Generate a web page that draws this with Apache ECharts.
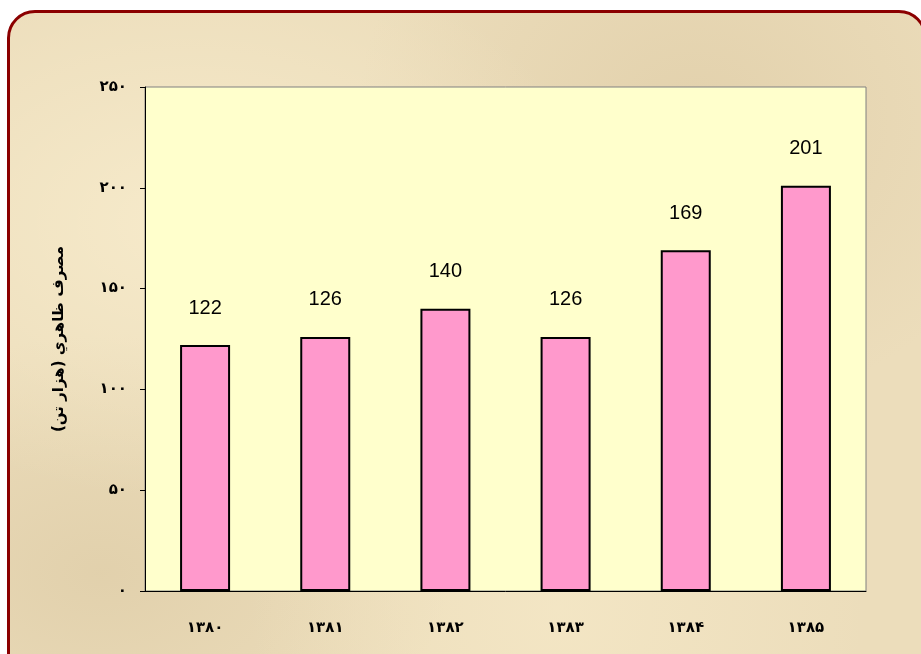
<!DOCTYPE html>
<html>
<head>
<meta charset="utf-8">
<script src="https://cdn.jsdelivr.net/npm/echarts@6/dist/echarts.min.js"></script>
<style>
html, body { margin: 0; padding: 0; background: #fff; overflow: hidden; }
#frame {
	position: absolute; left: 7px; top: 10px; width: 914px; height: 700px;
	border: 3px solid #8B0000; border-radius: 28px;
	background-color: #ECDDBB;
	background-image:
		radial-gradient(ellipse at 20% 30%, rgba(255,245,215,0.55), rgba(255,245,215,0) 40%),
		radial-gradient(ellipse at 75% 15%, rgba(215,195,155,0.45), rgba(215,195,155,0) 35%),
		radial-gradient(ellipse at 60% 85%, rgba(250,238,205,0.5), rgba(250,238,205,0) 40%),
		radial-gradient(ellipse at 10% 80%, rgba(210,190,150,0.4), rgba(210,190,150,0) 30%);
}
#chartsId { position: absolute; left: 0; top: 0; width: 921px; height: 654px; }
</style>
</head>
<body>
<div id="frame"></div>
<div id="chartsId"></div>
<script>
// سال ها و مصرف ظاهري (هزار تن)
var years = ['1380', '1381', '1382', '1383', '1384', '1385'];
var consumption = [122, 126, 140, 126, 169, 201];
var yTicks = [0, 50, 100, 150, 200, 250];

var faDigits = ['۰', '۱', '۲', '۳', '۴', '۵', '۶', '۷', '۸', '۹'];
function toFa(s) {
	return String(s).replace(/[0-9]/g, function (d) { return faDigits[+d]; });
}

var myChart = echarts.init(document.getElementById('chartsId'));
var option = {
	backgroundColor: 'transparent',
	animation: false,
	grid: {
		left: 145, right: 55, top: 87, bottom: 63,
		show: true,
		backgroundColor: '#FFFFCC',
		borderColor: '#808080',
		borderWidth: 1
	},
	xAxis: {
		type: 'category',
		data: years,
		axisLine: { lineStyle: { color: '#000', width: 1 } },
		axisTick: { length: 7, lineStyle: { color: '#000' } },
		axisLabel: {
			margin: 30,
			color: '#000',
			fontFamily: 'DejaVu Sans',
			fontWeight: 'bold',
			fontSize: 15,
			formatter: function (v) { return toFa(v); }
		}
	},
	yAxis: {
		type: 'value',
		min: yTicks[0],
		max: yTicks[yTicks.length - 1],
		interval: 50,
		name: 'مصرف ظاهري (هزار تن)',
		nameLocation: 'middle',
		nameGap: 78,
		nameRotate: 90,
		nameTextStyle: {
			color: '#000',
			fontFamily: 'DejaVu Sans',
			fontWeight: 'bold',
			fontSize: 15
		},
		axisLine: { show: true, lineStyle: { color: '#000', width: 1 } },
		axisTick: { show: true, length: 5, lineStyle: { color: '#000' } },
		splitLine: { show: false },
		axisLabel: {
			margin: 18,
			color: '#000',
			fontFamily: 'DejaVu Sans',
			fontWeight: 'bold',
			fontSize: 15,
			formatter: function (v) { return toFa(v); }
		}
	},
	series: [{
		type: 'bar',
		data: consumption,
		barWidth: 50,
		itemStyle: { color: '#FF99CC', borderColor: '#000', borderWidth: 2 },
		label: {
			show: true,
			position: 'top',
			distance: 27,
			color: '#000',
			fontFamily: 'Liberation Sans',
			fontSize: 20
		}
	}]
};
myChart.setOption(option);
</script>
</body>
</html>
